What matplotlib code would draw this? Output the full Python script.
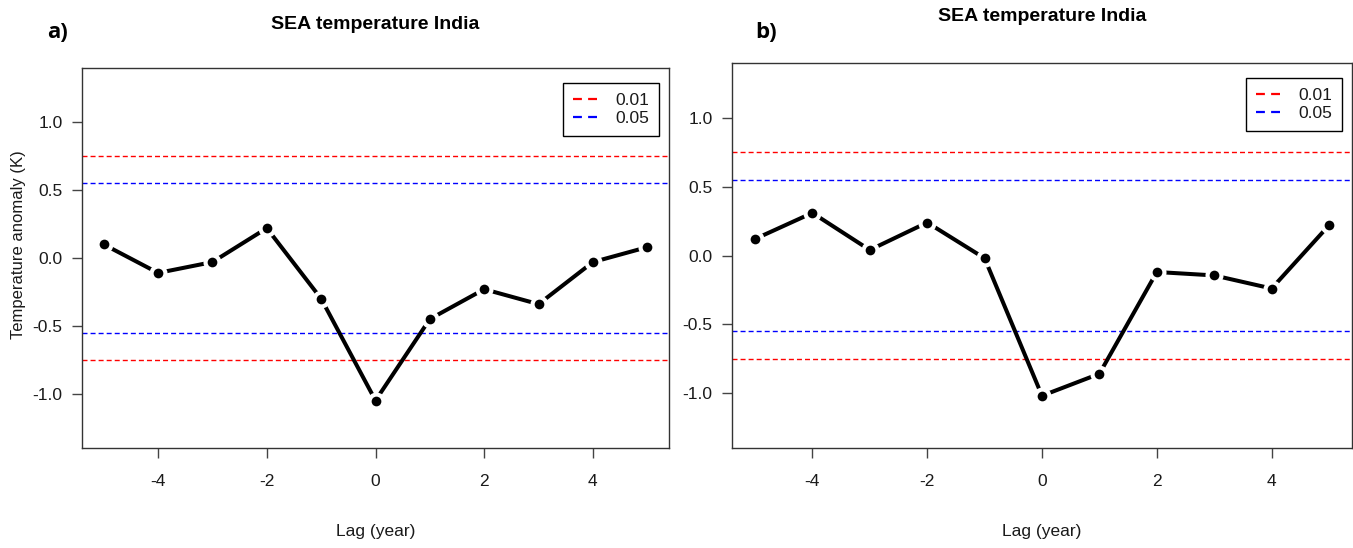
import matplotlib
matplotlib.use("Agg")
import matplotlib.pyplot as plt
from matplotlib.lines import Line2D

plt.rcParams["axes.unicode_minus"] = False

# superposed epoch analysis, lag in years
lags = [-5, -4, -3, -2, -1, 0, 1, 2, 3, 4, 5]
anom_a = [0.10, -0.11, -0.03, 0.22, -0.30, -1.05, -0.45, -0.23, -0.34, -0.03, 0.08]
anom_b = [0.12, 0.31, 0.04, 0.24, -0.02, -1.02, -0.86, -0.12, -0.145, -0.24, 0.22]

# significance thresholds (symmetric about zero)
sig_levels = ["0.01", "0.05"]
sig_bounds = [0.75, 0.55]
sig_colors = ["red", "blue"]

title = "SEA temperature India"
xlab = "Lag (year)"
ylab = "Temperature anomaly (K)"
panel_tags = ["a)", "b)"]

NARROW = ["Liberation Sans Narrow", "Liberation Sans", "DejaVu Sans"]
REGULAR = ["Liberation Sans", "DejaVu Sans"]
W, H = 1353, 548


def px_rect(left, top, right, bottom):
    return [left / W, 1 - bottom / H, (right - left) / W, (bottom - top) / H]


def sea_panel(ax, values, title_pad):
    for b, c in zip(sig_bounds, sig_colors):
        for s in (1, -1):
            ax.axhline(s * b, color=c, lw=1.0, ls=(0, (3.6, 2.2)), zorder=1)

    # R style type="b": line broken around each point
    ax.plot(lags, values, color="black", lw=2.9, solid_capstyle="butt", zorder=2)
    ax.plot(lags, values, "o", ms=13, color="white", mec="none", zorder=3)
    ax.plot(lags, values, "o", ms=7, color="black", mec="none", zorder=4)

    ax.set_xlim(-5.4, 5.4)
    ax.set_ylim(-1.4, 1.4)
    ax.set_xticks([-4, -2, 0, 2, 4])
    ax.set_yticks([-1.0, -0.5, 0.0, 0.5, 1.0])
    ax.set_yticklabels(["%.1f" % v for v in ax.get_yticks()])
    ax.set_xticklabels(["%d" % v for v in ax.get_xticks()])

    for lab in ax.get_xticklabels() + ax.get_yticklabels():
        lab.set_family(NARROW)
        lab.set_fontsize(12.5)
        lab.set_color("#1a1a1a")
    ax.tick_params(axis="both", direction="out", length=7, width=1.0, color="#444444")
    ax.tick_params(axis="x", pad=12)
    ax.tick_params(axis="y", pad=7)
    for sp in ax.spines.values():
        sp.set_color("#333333")
        sp.set_linewidth(1.0)

    ax.set_xlabel(xlab, family=NARROW, fontsize=12.5, color="#1a1a1a", labelpad=25)
    ax.set_title(title, family=NARROW, fontweight="bold", fontsize=14, pad=title_pad)

    handles = [Line2D([], [], color=c, lw=1.6, ls=(0, (4.0, 2.8))) for c in sig_colors]
    bbox = ax.get_position()
    aw, ah = bbox.width * W, bbox.height * H
    leg = ax.legend(handles, sig_levels, loc="upper right",
                    bbox_to_anchor=(1 - 10 / aw, 1 - 15 / ah), borderaxespad=0,
                    prop={"family": NARROW, "size": 12.5},
                    handlelength=1.45, handletextpad=1.0, labelspacing=0.2,
                    borderpad=0.55, fancybox=False, framealpha=1)
    leg.get_frame().set_edgecolor("black")
    leg.get_frame().set_linewidth(1.0)
    for t in leg.get_texts():
        t.set_color("#1a1a1a")


fig = plt.figure(figsize=(W / 100, H / 100), dpi=100)
ax_a = fig.add_axes(px_rect(82, 68, 669, 448))
ax_b = fig.add_axes(px_rect(732, 63, 1352, 448))

sea_panel(ax_a, anom_a, title_pad=28)
sea_panel(ax_b, anom_b, title_pad=30)

fig.text(19 / W, 1 - 245 / H, ylab, rotation=90, ha="center", va="center",
         family=REGULAR, fontsize=12, color="#1a1a1a")

for tag, x in zip(panel_tags, [58, 766]):
    fig.text(x / W, 1 - 33 / H, tag, ha="center", va="center",
             family=["Open Sans", "DejaVu Sans"], fontweight="bold", fontsize=16)

fig.savefig("out.png", dpi=100)
